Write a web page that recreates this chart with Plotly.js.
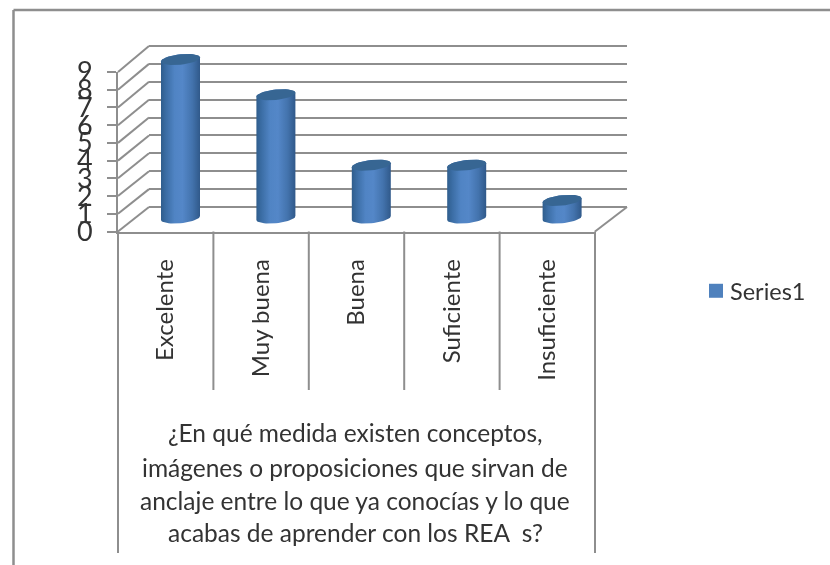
<!DOCTYPE html>
<html>
<head>
<meta charset="utf-8">
<script src="https://cdn.plot.ly/plotly-3.0.1.min.js"></script>
<style>
html,body{margin:0;padding:0;background:#fff;overflow:hidden}
#chart{width:830px;height:565px;filter:blur(0.5px)}
</style>
</head>
<body>
<div id="chart"></div>
<script>
// ---- data ----
const categories = ['Excelente', 'Muy buena', 'Buena', 'Suficiente', 'Insuficiente'];
const values = [9, 7, 3, 3, 1];
const seriesName = 'Series1';
const yTicks = [0, 1, 2, 3, 4, 5, 6, 7, 8, 9];
const titleLines = [
  '¿En qué medida existen conceptos,',
  'imágenes o proposiciones que sirvan de',
  'anclaje entre lo que ya conocías y lo que',
  'acabas de aprender con los REA\u00a0 s?'
];

// ---- page geometry (px) ----
const W = 830, H = 565;
const px = v => v / W, py = v => 1 - v / H;
const FONT = 'Lato, "Open Sans", sans-serif';
const GREY = '#8e8e8e', TEXT = '#333333';
const front = {l: 118, r: 595, y0: 231.5, y9: 72};
const back  = {l: 149, r: 627, y0: 207,   y9: 46};
const mid   = {l: 132.8, r: 609.8, yBottom: 235.6, yTop: 41.9};   // plane through the columns (range -1..10)
const unitX = (front.r - front.l) / categories.length;
const unitY = (mid.yBottom - mid.yTop) / 11;

// cylinder proportions, in px then converted to axis units
const cylA = 19.5 / unitX, cylB = 5.2 / unitY, cylTilt = 2 / unitY;
const arc = (cx, cy, from, to, n) => {
  const xs = [], ys = [];
  for (let i = 0; i <= n; i++) {
    const t = from + (to - from) * i / n;
    xs.push(cx + cylA * Math.cos(t));
    ys.push(cy + cylB * Math.sin(t) + cylTilt * Math.cos(t));
  }
  return [xs, ys];
};

const traces = [];
// back wall plane: carries the gridlines
traces.push({type: 'scatter', mode: 'markers', x: categories.map((c, i) => i), y: values,
  xaxis: 'x', yaxis: 'y', marker: {opacity: 0}, showlegend: false, hoverinfo: 'skip'});
// the columns
traces.push({type: 'bar', name: seriesName, x: categories.map((c, i) => i), y: values,
  xaxis: 'x2', yaxis: 'y2', width: 37 / unitX, marker: {color: '#4f81bd', line: {width: 0}},
  text: categories, hovertemplate: '%{text}: %{y}<extra></extra>', textposition: 'none', showlegend: true});
values.forEach((v, i) => {
  // shaded body
  const [tx, ty] = arc(i, v, Math.PI, 0, 24);
  const [bx, by] = arc(i, 0, 0, -Math.PI, 24);
  traces.push({type: 'scatter', mode: 'lines', x: tx.concat(bx), y: ty.concat(by), xaxis: 'x2', yaxis: 'y2',
    fill: 'toself', line: {width: 0}, showlegend: false, hoverinfo: 'skip',
    fillgradient: {type: 'horizontal', colorscale: [
      [0, '#2f5d8c'], [0.12, '#3a6ca3'], [0.35, '#5084c4'], [0.55, '#5487c8'],
      [0.8, '#4373ad'], [1, '#30598a']]}});
  // top face
  const [ex, ey] = arc(i, v, 0, 2 * Math.PI, 36);
  traces.push({type: 'scatter', mode: 'lines', x: ex, y: ey, xaxis: 'x2', yaxis: 'y2',
    fill: 'toself', fillcolor: '#376693', line: {width: 0}, showlegend: false, hoverinfo: 'skip'});
});
// front plane: carries the labelled axes
traces.push({type: 'scatter', mode: 'markers', x: categories, y: values,
  xaxis: 'x3', yaxis: 'y3', marker: {opacity: 0}, showlegend: false, hoverinfo: 'skip'});

const lineShape = (x0, y0, x1, y1, w) => ({type: 'line', xref: 'paper', yref: 'paper', layer: 'below',
  x0: px(x0), y0: py(y0), x1: px(x1), y1: py(y1), line: {color: GREY, width: w || 2}});
const shapes = [
  lineShape(13.5, 10, W, 10, 2.5),      // picture frame
  lineShape(13.5, 10, 13.5, H, 2.5),
  lineShape(back.l, back.y9, back.r, back.y9),   // top and bottom back-wall lines
  lineShape(back.l, back.y0, back.r, back.y0)
];
// side wall and floor diagonals, one per tick
const frontUnit = (front.y0 - front.y9) / 9, backUnit = (back.y0 - back.y9) / 9;
yTicks.forEach(t => shapes.push(lineShape(front.l, front.y0 - t * frontUnit, back.l, back.y0 - t * backUnit)));
shapes.push(lineShape(front.r, front.y0, back.r, back.y0));
// category separators
categories.concat(['']).forEach((c, i) => {
  const outer = i === 0 || i === categories.length;
  const x = front.l + i * unitX;
  shapes.push(lineShape(x, front.y0, x, outer ? 553 : 390));
});

const lineY = [433, 467, 500, 532];
const annotations = titleLines.map((t, i) => ({
  text: t, xref: 'paper', yref: 'paper', x: px(355), y: py(lineY[i]),
  xanchor: 'center', yanchor: 'middle', showarrow: false,
  font: {family: FONT, size: 24.5, color: TEXT}
}));

const hidden = {showticklabels: false, ticks: '', showline: false, zeroline: false, fixedrange: true};
const layout = {
  width: W, height: H, margin: {l: 0, r: 0, t: 0, b: 0},
  paper_bgcolor: '#fff', plot_bgcolor: 'rgba(0,0,0,0)',
  barmode: 'overlay', hovermode: 'closest',
  font: {family: FONT, color: TEXT},
  showlegend: true,
  legend: {x: px(696), y: py(291), xanchor: 'left', yanchor: 'middle', bgcolor: 'rgba(0,0,0,0)',
    font: {family: FONT, size: 23.5, color: TEXT}},
  // back wall
  xaxis: Object.assign({}, hidden, {domain: [px(back.l), px(back.r)], range: [-0.5, 4.5], showgrid: false, anchor: 'y'}),
  yaxis: Object.assign({}, hidden, {domain: [py(back.y0), py(back.y9)], range: [0, 9], tickvals: yTicks,
    showgrid: true, gridcolor: GREY, gridwidth: 2, anchor: 'x'}),
  // plane of the columns
  xaxis2: Object.assign({}, hidden, {domain: [px(mid.l), px(mid.r)], range: [-0.5, 4.5], showgrid: false, anchor: 'y2'}),
  yaxis2: Object.assign({}, hidden, {domain: [py(mid.yBottom), py(mid.yTop)], range: [-1, 10], showgrid: false, anchor: 'x2'}),
  // front edge
  xaxis3: {domain: [px(front.l), px(front.r)], type: 'category', categoryorder: 'array', categoryarray: categories,
    range: [-0.5, 4.5], anchor: 'y3', showgrid: false, zeroline: false, showline: true, linecolor: GREY, linewidth: 2,
    ticks: '', tickangle: -90, ticklabelstandoff: 16, fixedrange: true,
    tickfont: {family: FONT, size: 24, color: TEXT}},
  yaxis3: {domain: [py(front.y0), py(front.y9)], range: [0, 9], anchor: 'x3', tickvals: yTicks, showgrid: false,
    zeroline: false, showline: true, linecolor: GREY, linewidth: 2, ticks: 'outside', ticklen: 9, tickwidth: 2,
    tickcolor: GREY, ticklabelstandoff: 9, fixedrange: true, tickfont: {family: FONT, size: 27, color: TEXT}},
  shapes, annotations
};

Plotly.newPlot('chart', traces, layout, {displayModeBar: false, responsive: false}).then(gd => {
  // tighten the gap between legend swatch and label
  gd.querySelectorAll('.legend .legendtext').forEach(t => t.setAttribute('x', +t.getAttribute('x') - 6));
  gd.querySelectorAll('.legend .legendpoints path').forEach(p => p.setAttribute('d', 'M7,7H-7V-7H7Z'));
});
</script>
</body>
</html>
